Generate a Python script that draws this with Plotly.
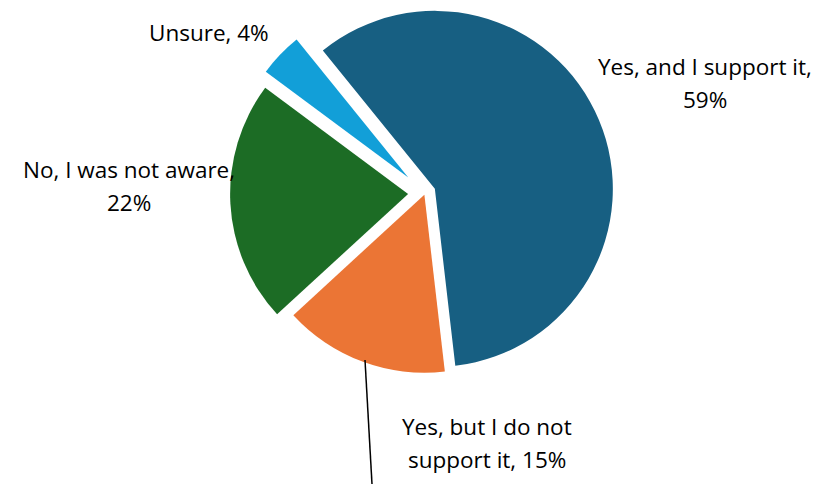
import math
import plotly.graph_objects as go

# ---- data ----
categories = ["Yes, and I support it", "Yes, but I do not support it", "No, I was not aware", "Unsure"]
values = [59, 15, 22, 4]
colors = ["#175F82", "#EB7535", "#1C6C25", "#129FD8"]
pulls = [0.06, 0.01, 0.095, 0.13]
label_lines = [
    ["Yes, and I support it,", "59%"],
    ["Yes, but I do not", "support it, 15%"],
    ["No, I was not aware,", "22%"],
    ["Unsure, 4%"],
]

W, H = 834, 484
R = 178            # pie radius in px
CX, CY = 425, 193  # unexploded centre in px (from top-left)
ROT = -39          # degrees, clockwise from 12 o'clock

fig = go.Figure()
total = sum(values)
start = ROT
for i, v in enumerate(values):
    span = 360 * v / total
    mid = math.radians(start + span / 2)
    start += span
    off = pulls[i] * R
    cx = CX + off * math.sin(mid)
    cy = CY - off * math.cos(mid)
    x0 = max(0, (cx - R) / W); x1 = min(1, (cx + R) / W)
    ybot = H - cy
    y0 = max(0, (ybot - R) / H); y1 = min(1, (ybot + R) / H)
    cols = ["rgba(0,0,0,0)"] * len(values)
    cols[i] = colors[i]
    fig.add_trace(go.Pie(
        labels=categories, values=values, sort=False, direction="clockwise",
        rotation=ROT, marker=dict(colors=cols, line=dict(width=0)),
        textinfo="none", hoverinfo="skip", showlegend=False,
        domain=dict(x=[x0, x1], y=[y0, y1]),
    ))

font = dict(family="'Open Sans', sans-serif", size=22.5, color="#000000")
# label anchor positions (centre x, first-line baseline y) in px
label_pos = [(705, 77), (487, 437), (129, 180), (209, 43)]
line_gap = 33
for lines, (lx, ly) in zip(label_lines, label_pos):
    for k, t in enumerate(lines):
        fig.add_annotation(
            x=lx / W, y=1 - (ly + k * line_gap) / H, xref="paper", yref="paper",
            text=t, showarrow=False, xanchor="center", yanchor="bottom",
            font=font, yshift=-7,
        )

# leader line for the orange slice
fig.add_shape(type="line", xref="paper", yref="paper",
              x0=365 / W, y0=1 - 360 / H, x1=372 / W, y1=0,
              line=dict(color="#000000", width=1.5))

fig.update_layout(
    width=W, height=H, margin=dict(l=0, r=0, t=0, b=0),
    paper_bgcolor="white", plot_bgcolor="white",
)
fig.write_html("out.html", config={"displayModeBar": False},
               post_script="document.body.style.margin='0';")
